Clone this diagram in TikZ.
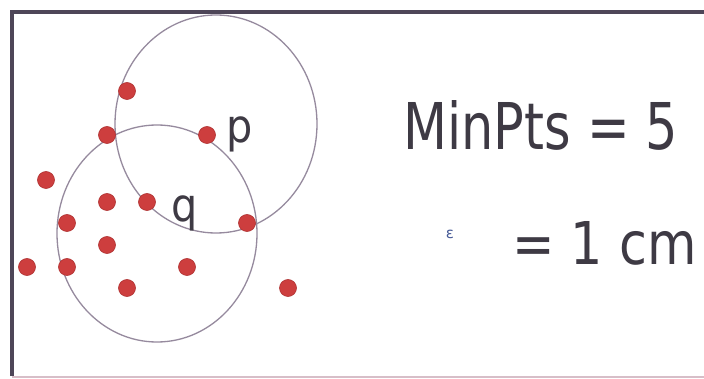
\documentclass[tikz,border=0pt]{standalone}
\usepackage{fontspec}
\setmainfont{DejaVu Sans}
\definecolor{dotred}{RGB}{205,62,62}
\definecolor{dotedge}{RGB}{175,50,50}
\definecolor{ringgray}{RGB}{150,138,158}
\definecolor{framedark}{RGB}{78,70,88}
\definecolor{framelight}{RGB}{215,190,200}
\definecolor{txtgray}{RGB}{62,58,68}
\definecolor{epsblue}{RGB}{70,90,150}
\tikzset{
  pt/.style={circle, fill=dotred, draw=dotedge, line width=0.6pt, minimum size=17pt, inner sep=0pt},
  ring/.style={draw=ringgray, line width=1.3pt},
  lbl/.style={text=txtgray, inner sep=0pt},
}
\begin{document}
\begin{tikzpicture}[x=1pt,y=-1pt]
\useasboundingbox (0,0) rectangle (704,379);
\fill[white] (0,0) rectangle (704,379);
% frame
\draw[framedark, line width=4pt] (12,376) -- (12,12) -- (704,12);
\draw[framelight, line width=1.5pt] (12,377) -- (704,377);
% neighbourhood circles
\draw[ring] (216,124) ellipse [x radius=101, y radius=109];
\draw[ring] (157,233.5) ellipse [x radius=100, y radius=108.5];
% points
\node[pt] (a1) at (127,91) {};
\node[pt] (a2) at (107,135) {};
\node[pt] (p) at (207,135) {};
\node[pt] (a4) at (46,180) {};
\node[pt] (a5) at (107,202) {};
\node[pt] (q) at (147,202) {};
\node[pt] (a7) at (247,223) {};
\node[pt] (a8) at (67,223) {};
\node[pt] (a9) at (107,245) {};
\node[pt] (a10) at (27,267) {};
\node[pt] (a11) at (67,267) {};
\node[pt] (a12) at (187,267) {};
\node[pt] (a13) at (127,288) {};
\node[pt] (a14) at (288,288) {};
% labels
\node[lbl, anchor=base west] (plbl) at (226,143) {\fontsize{46}{50}\selectfont\scalebox{0.9}[1]{p}};
\node[lbl, anchor=base west] (qlbl) at (171,222) {\fontsize{46}{50}\selectfont\scalebox{0.9}[1]{q}};
\node[lbl, anchor=base west] (minpts) at (403,150) {\fontsize{64.5}{70}\selectfont\scalebox{0.79}[1]{MinPts = 5}};
\node[text=epsblue, inner sep=0pt] (eps) at (450,234) {\fontsize{15}{16}\selectfont ε};
\node[lbl, anchor=base west] (eq) at (512,265) {\fontsize{59}{64}\selectfont\scalebox{0.86}[1]{= 1 cm}};
\end{tikzpicture}
\end{document}
